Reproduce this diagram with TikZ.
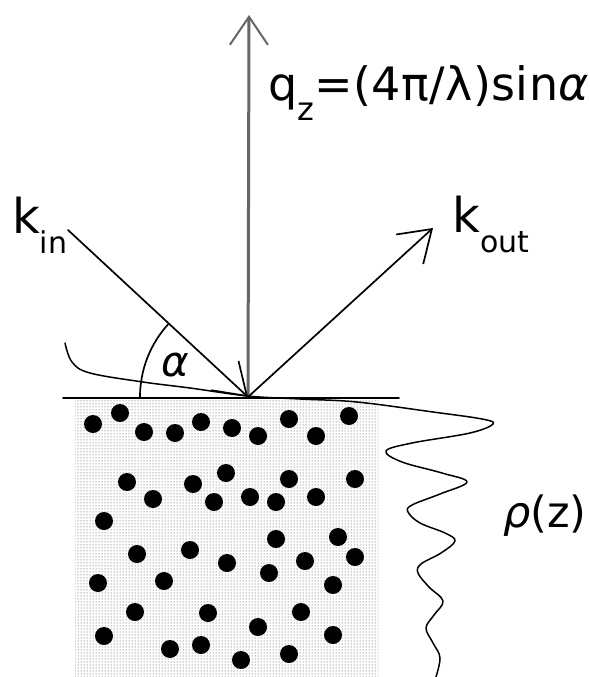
\documentclass[tikz,border=0pt]{standalone}
\usepackage{fontspec}
\setmainfont{DejaVu Sans}
\usetikzlibrary{arrows.meta,patterns}
\begin{document}
\begin{tikzpicture}[x=1pt,y=-1pt,
  line/.style={line width=1.7pt, line join=round, line cap=round},
  barb/.style={-{Straight Barb[length=30pt,width=40pt,line width=1.7pt]}},
  ray/.style={line, barb},
  normal/.style={line width=3pt, draw=black!60,
    -{Straight Barb[length=28pt,width=38pt,line width=2pt]}},
  particle/.style={fill=black},
  bulk/.style={pattern=dots, pattern color=black!75},
  lbl/.style={inner sep=0pt, anchor=base west},
  big/.style={font=\fontsize{48}{48}\selectfont},
]
\useasboundingbox (0,0) rectangle (589,677);
\clip (0,0) rectangle (589,677);

% key points
\coordinate (O)    at (248,397);
\coordinate (kin)  at (68,230);
\coordinate (kout) at (433,228);
\coordinate (qtop) at (249,15);
\coordinate (sL)   at (63,398);
\coordinate (sR)   at (399,398);
\coordinate (arcS) at (140,397);

% sample bulk
\fill[bulk] (75,400) rectangle (378,677);
\foreach \px/\py in {93/424,120/413,144/432,175/433,201/422,232/428,258/436,
  289/419,316/436,349/416,127/482,193/484,226/473,289/479,355/479,153/499,
  214/502,250/497,276/502,316/497,104/521,276/539,338/537,137/554,190/550,
  227/563,269/573,305/561,355/557,98/583,164/581,333/585,135/612,208/613,
  301/612,258/627,104/636,333/635,170/649,201/645,241/660,289/654}
  \fill[particle] (\px,\py) circle[radius=9pt];

% surface
\draw[line] (sL) -- (sR);

% evanescent wave and density profile
\draw[line, line width=1.5pt] plot[smooth, tension=0.6] coordinates {
  (65,343) (72,362) (90,373) (143,382) (190,388) (248,396) (300,399)
  (357,402) (433,412) (482,419) (493,424) (470,433) (412,443) (386,451)
  (402,462) (442,473) (467,482) (440,494) (412,505) (408,512) (420,523)
  (445,533) (455,541) (441,553) (421,564) (418,573) (429,587) (443,601)
  (434,615) (426,628) (433,643) (440,658) (435,680)};

% beams
\draw[normal] (O) -- (qtop);
\draw[ray] (kin) -- (O);
\draw[ray] (O) -- (kout);

% incidence angle
\draw[line] (arcS) arc[start angle=180, end angle=137.1, radius=108pt];

% labels
\node[lbl, big] (lin) at (12,233) {k\raisebox{-20pt}{\fontsize{30}{30}\selectfont in}};
\node[lbl, big] (lout) at (452,232) {k\raisebox{-20pt}{\fontsize{30}{30}\selectfont out}};
\node[lbl, font=\fontsize{46}{46}\selectfont\addfontfeature{LetterSpace=1}] (lq) at (268,100)
  {q\raisebox{-20pt}{\fontsize{32}{32}\selectfont z}=(4π/λ)sin\textit{α}};
\node[font=\fontsize{42}{42}\selectfont\itshape, inner sep=0pt] (lalpha) at (175,365) {α};
\node[lbl, font=\fontsize{43}{43}\selectfont] (lrho) at (503,527) {\textit{ρ}(z)};
\end{tikzpicture}
\end{document}
